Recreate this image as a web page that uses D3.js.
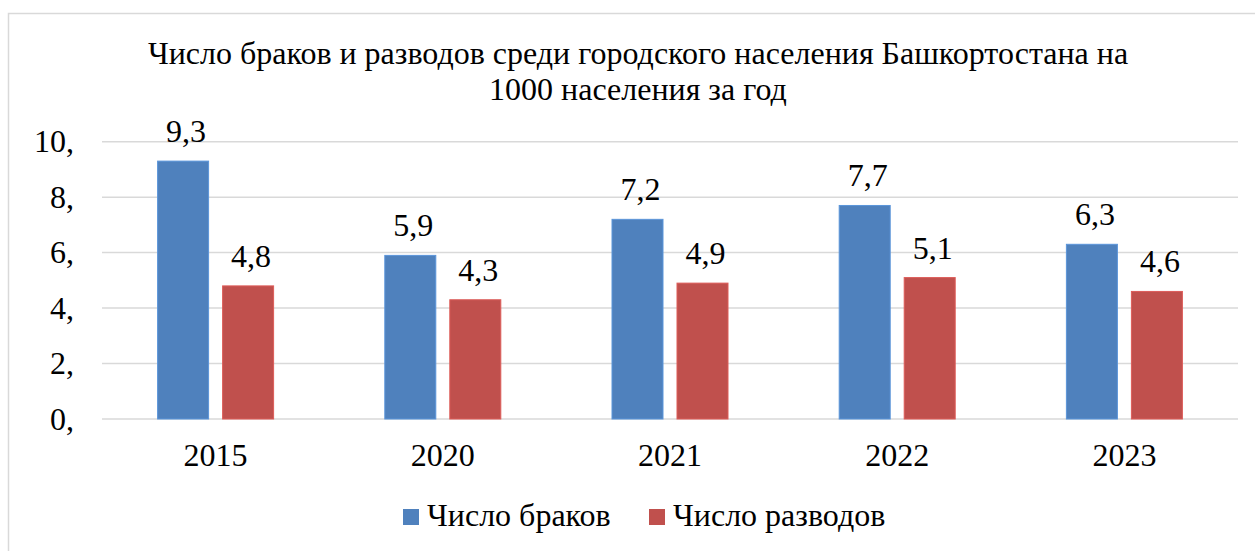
<!DOCTYPE html>
<html>
<head>
<meta charset="utf-8">
<script src="https://cdn.jsdelivr.net/npm/d3@7"></script>
</head>
<body style="margin:0">
<svg id="chart" width="1255" height="551"></svg>
<script>
const years = ["2015", "2020", "2021", "2022", "2023"];
const marriages = [9.3, 5.9, 7.2, 7.7, 6.3];
const divorces = [4.8, 4.3, 4.9, 5.1, 4.6];
const yTicks = [0, 2, 4, 6, 8, 10];
const seriesNames = ["Число браков", "Число разводов"];
const seriesColors = ["#4f81bd", "#c0504d"];
const titleLines = [
  "Число браков и разводов среди городского населения Башкортостана на",
  "1000 населения за год"
];

const svg = d3.select("#chart")
  .style("font-family", '"Liberation Serif"');
const fontSize = 32;

function serifText(sel) {
  return sel
    .style("font-family", '"Liberation Serif"')
    .style("font-size", fontSize + "px");
}

// outer frame (only left and top edges show)
svg.append("rect")
  .attr("x", 8.5).attr("y", 13.5)
  .attr("width", 1300).attr("height", 600)
  .attr("fill", "none")
  .attr("stroke", "#d9d9d9")
  .attr("stroke-width", 1.5);

const plot = { left: 102, right: 1238, top: 141.7, bottom: 419 };

const x = d3.scaleBand()
  .domain(years)
  .range([plot.left, plot.right]);

const y = d3.scaleLinear()
  .domain([0, 10])
  .range([plot.bottom, plot.top]);

const barW = 51, gap = 14;

// gridlines
svg.append("g")
  .selectAll("line")
  .data(yTicks)
  .join("line")
  .attr("x1", plot.left).attr("x2", plot.right)
  .attr("y1", d => y(d)).attr("y2", d => y(d))
  .attr("stroke", "#d9d9d9")
  .attr("stroke-width", 1.5);

// y axis labels
const yAxis = d3.axisLeft(y)
  .tickValues(yTicks)
  .tickFormat(d => d + ",")
  .tickSize(0)
  .tickPadding(0);

const yAxisG = svg.append("g")
  .attr("transform", `translate(74,0)`)
  .call(yAxis)
  .attr("font-family", null)
  .attr("font-size", null);
yAxisG.select(".domain").remove();
yAxisG.selectAll("text")
  .attr("dy", "0.32em")
  .attr("fill", "#000")
  .call(serifText);

// x axis labels
const xAxis = d3.axisBottom(x).tickSize(0).tickPadding(0);
const xAxisG = svg.append("g")
  .attr("transform", `translate(0,466)`)
  .call(xAxis)
  .attr("font-family", null)
  .attr("font-size", null);
xAxisG.select(".domain").remove();
xAxisG.selectAll("text")
  .attr("dy", 0)
  .attr("fill", "#000")
  .call(serifText);

// bars
const series = [marriages, divorces];
series.forEach((vals, si) => {
  const offset = si === 0 ? -(gap / 2 + barW) : gap / 2;
  const g = svg.append("g");
  g.selectAll("rect")
    .data(vals)
    .join("rect")
    .attr("x", (d, i) => x(years[i]) + x.bandwidth() / 2 + offset)
    .attr("y", d => y(d))
    .attr("width", barW)
    .attr("height", d => y(0) - y(d))
    .attr("fill", seriesColors[si])
    .attr("stroke", d3.color(seriesColors[si]).brighter(0.4))
    .attr("stroke-width", 1);

  g.selectAll("text")
    .data(vals)
    .join("text")
    .attr("x", (d, i) => x(years[i]) + x.bandwidth() / 2 + offset + barW / 2 + 3)
    .attr("y", d => y(d) - 19)
    .attr("text-anchor", "middle")
    .call(serifText)
    .text(d => d.toFixed(1).replace(".", ","));
});

// title
titleLines.forEach((line, i) => {
  svg.append("text")
    .attr("x", 638)
    .attr("y", 63.5 + i * 36)
    .attr("text-anchor", "middle")
    .call(serifText)
    .text(line);
});

// legend
const legendX = [403, 649];
seriesNames.forEach((name, i) => {
  svg.append("rect")
    .attr("x", legendX[i]).attr("y", 509)
    .attr("width", 16).attr("height", 16)
    .attr("fill", seriesColors[i]);
  svg.append("text")
    .attr("x", legendX[i] + 24)
    .attr("y", 526)
    .call(serifText)
    .text(name);
});
</script>
</body>
</html>
